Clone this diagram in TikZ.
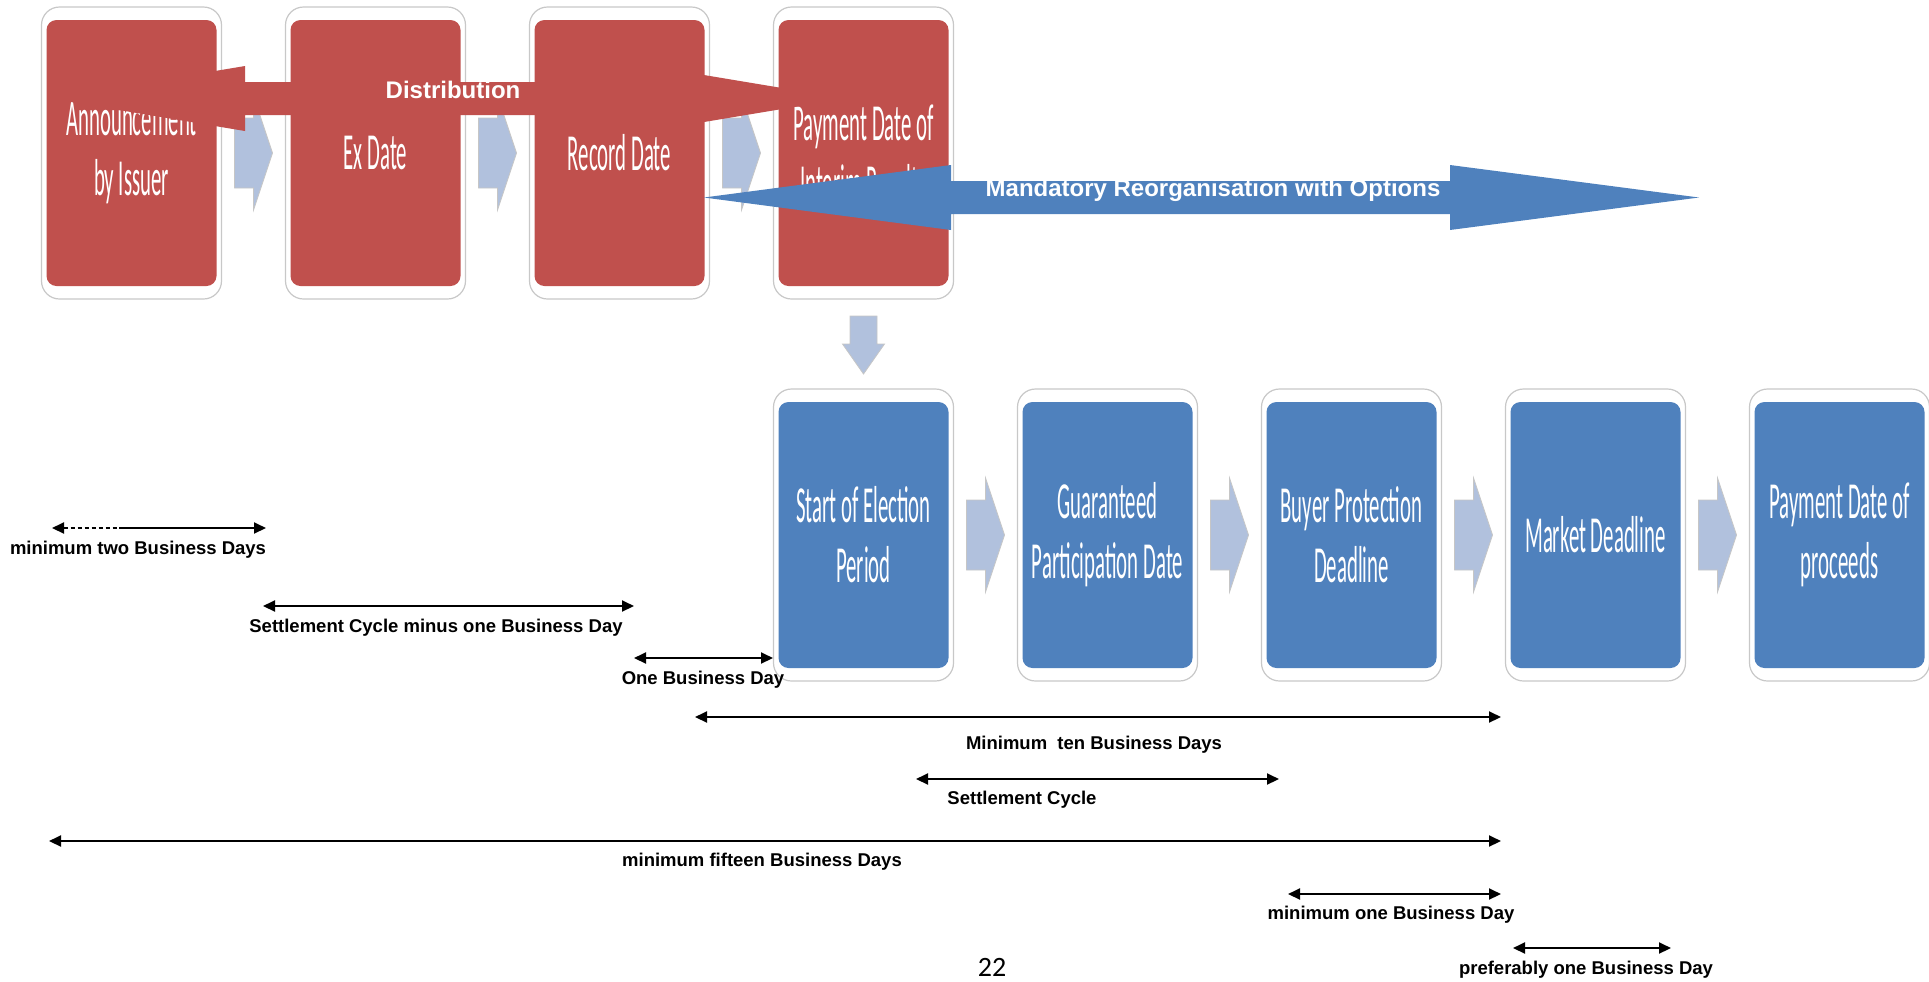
\documentclass[tikz,border=0pt]{standalone}
\usepackage{fontspec}
\usepackage{graphicx}
\setmainfont{Liberation Sans}
\newfontfamily\boxfont{Carlito}
\usetikzlibrary{positioning,calc,backgrounds,arrows.meta}

\definecolor{evred}{HTML}{C0504D}
\definecolor{evblue}{HTML}{4F81BD}
\definecolor{chevfill}{HTML}{B1C1DD}
\definecolor{framegray}{HTML}{C8C8C8}

% box captions are set very narrow
\newcommand{\squeezed}[1]{\scalebox{0.4}[1]{#1}}

\tikzset{
	datebox/.style={rounded corners=5pt, minimum width=85pt, minimum height=133pt,
		inner sep=0pt, outer sep=0pt, text=white, align=center,
		font=\boxfont\fontsize{26}{30}\selectfont},
	redbox/.style={datebox, fill=evred},
	bluebox/.style={datebox, fill=evblue},
	boxframe/.style={draw=framegray, fill=white, line width=0.6pt, rounded corners=9pt},
	chev/.style={fill=chevfill, draw=gray!45, line width=0.4pt},
	chevright/.pic={\path[chev] (-19,-35) -- (0,-35) -- (0,-57) -- (19,0) -- (0,57) -- (0,35) -- (-19,35) -- cycle;},
	chevdown/.pic={\path[chev] (-13.5,-28) -- (13.5,-28) -- (13.5,0) -- (21,0) -- (0,30) -- (-21,0) -- (-13.5,0) -- cycle;},
	spantip/.tip={Triangle[length=6pt, width=5.5pt]},
	spanline/.style={line width=1pt},
	span/.style={spanline, spantip-spantip},
	spanlabel/.style={font=\bfseries\fontsize{9.25}{11}\selectfont, inner sep=0pt},
	bigtext/.style={text=white, inner sep=0pt, font=\bfseries\fontsize{12}{14}\selectfont}
}

\begin{document}
\begin{tikzpicture}[x=0.5pt, y=-0.5pt]
	\useasboundingbox (0,0) rectangle (1929,981);

	% distribution events
	\node[redbox] (ann) at (131.5,153) {\squeezed{Announcement}\\\squeezed{by Issuer}};
	\node[redbox, right=37pt of ann] (exd) {\squeezed{Ex Date}};
	\node[redbox, right=37pt of exd] (rec) {\squeezed{Record Date}};
	\node[redbox, right=37pt of rec] (pay) {\squeezed{Payment Date of}\\\squeezed{Interim Results}};

	% reorganisation events
	\node[bluebox, below=58pt of pay] (sep) {\squeezed{Start of Election}\\\squeezed{Period}};
	\node[bluebox, right=37pt of sep] (gpd) {\squeezed{Guaranteed}\\\squeezed{Participation Date}};
	\node[bluebox, right=37pt of gpd] (bpd) {\squeezed{Buyer Protection}\\\squeezed{Deadline}};
	\node[bluebox, right=37pt of bpd] (mkd) {\squeezed{Market Deadline}};
	\node[bluebox, right=37pt of mkd] (pdp) {\squeezed{Payment Date of}\\\squeezed{proceeds}};

	\begin{scope}[on background layer]
		\foreach \b in {ann,exd,rec,pay,sep,gpd,bpd,mkd,pdp}
			\draw[boxframe] ([xshift=-2.5pt,yshift=6.5pt]\b.north west) rectangle ([xshift=2.5pt,yshift=-6.5pt]\b.south east);
	\end{scope}

	\pic at ($(ann.east)!0.5!(exd.west)$) {chevright};
	\pic at ($(exd.east)!0.5!(rec.west)$) {chevright};
	\pic at ($(rec.east)!0.5!(pay.west)$) {chevright};
	\pic at ($(pay.south)!0.5!(sep.north)$) {chevdown};
	\pic at ($(sep.east)!0.5!(gpd.west)$) {chevright};
	\pic at ($(gpd.east)!0.5!(bpd.west)$) {chevright};
	\pic at ($(bpd.east)!0.5!(mkd.west)$) {chevright};
	\pic at ($(mkd.east)!0.5!(pdp.west)$) {chevright};

	% the two big spans
	\fill[evred] (50,98.5) -- (245,66) -- (245,82) -- (650,82) -- (650,66) -- (845,98.5)
		-- (650,131) -- (650,115) -- (245,115) -- (245,131) -- cycle;
	\node[bigtext] (distlbl) at (453,90) {Distribution};
	\fill[evblue] (704,197.5) -- (951,165) -- (951,181) -- (1450,181) -- (1450,165) -- (1699,197.5)
		-- (1450,230) -- (1450,214) -- (951,214) -- (951,230) -- cycle;
	\node[bigtext] (mandlbl) at (1213,190) {Mandatory Reorganisation with Options};

	% time spans
	\coordinate (twoL) at (52,528);
	\coordinate (twoM) at (119,528);
	\coordinate (twoR) at (266,528);
	\coordinate (scmL) at (263,606);
	\coordinate (scmR) at (634,606);
	\coordinate (obdL) at (634,658);
	\coordinate (obdR) at (773,658);
	\coordinate (tenL) at (695,717);
	\coordinate (tenR) at (1501,717);
	\coordinate (scL) at (916,779);
	\coordinate (scR) at (1279,779);
	\coordinate (fifL) at (49,841);
	\coordinate (fifR) at (1501,841);
	\coordinate (monL) at (1288,894);
	\coordinate (monR) at (1501,894);
	\coordinate (prfL) at (1513,948);
	\coordinate (prfR) at (1671,948);

	\draw[spanline, dash pattern=on 2pt off 1.5pt, spantip-] (twoL) -- (twoM);
	\draw[spanline, -spantip] (twoM) -- (twoR);
	\draw[span] (scmL) -- (scmR);
	\draw[span] (obdL) -- (obdR);
	\draw[span] (tenL) -- (tenR);
	\draw[span] (scL) -- (scR);
	\draw[span] (fifL) -- (fifR);
	\draw[span] (monL) -- (monR);
	\draw[span] (prfL) -- (prfR);

	\node[spanlabel] (twolbl) at (138,550) {minimum two Business Days};
	\node[spanlabel] (scmlbl) at (436,628) {Settlement Cycle minus one Business Day};
	\node[spanlabel] (obdlbl) at (703,680) {One Business Day};
	\node[spanlabel] (tenlbl) at (1094,745) {Minimum~ ten Business Days};
	\node[spanlabel] (sclbl) at (1022,800) {Settlement Cycle};
	\node[spanlabel] (giflbl) at (762,862) {minimum fifteen Business Days};
	\node[spanlabel] (monlbl) at (1391,915) {minimum one Business Day};
	\node[spanlabel] (prflbl) at (1586,970) {preferably one Business Day};

	\node[font=\boxfont\fontsize{14}{16}\selectfont, inner sep=0pt] (pgno) at (992,967) {22};
\end{tikzpicture}
\end{document}
